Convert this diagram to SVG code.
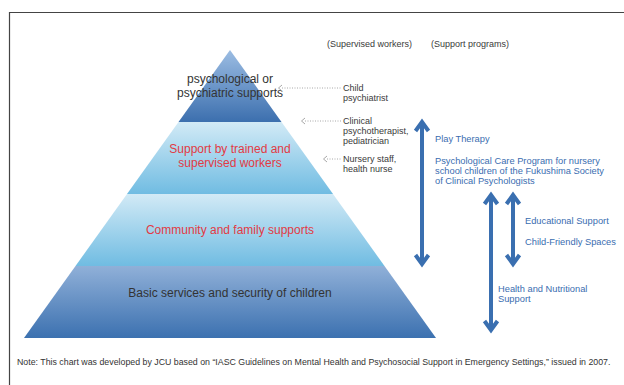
<svg xmlns="http://www.w3.org/2000/svg" width="624" height="385" viewBox="0 0 624 385">
<defs>
<linearGradient id="gTop" x1="0" y1="0" x2="0" y2="1"><stop offset="0" stop-color="#9cbde3"/><stop offset="1" stop-color="#3c6fae"/></linearGradient>
<linearGradient id="gMid" x1="0" y1="0" x2="0" y2="1"><stop offset="0" stop-color="#d2eaf6"/><stop offset="1" stop-color="#70bce2"/></linearGradient>
<linearGradient id="gBot" x1="0" y1="0" x2="0" y2="1"><stop offset="0" stop-color="#90b0d8"/><stop offset="1" stop-color="#3c71b0"/></linearGradient>
<style>
.lvl{font-family:"Liberation Sans",Arial,sans-serif;font-size:12px;text-anchor:middle}
.dark{fill:#333}
.red{fill:#e23a44}
.lab{font-family:"Liberation Sans",Arial,sans-serif;font-size:9px;fill:#3a3a3a}
.blu{font-family:"Liberation Sans",Arial,sans-serif;font-size:9.3px;fill:#3a6db0}
.dot{stroke:#a8a8a8;stroke-width:1;stroke-dasharray:1 1.5;fill:none}
.dhead{stroke:#a8a8a8;stroke-width:1;fill:none}
.arr{stroke:#3a6fb0;stroke-width:4;fill:none;stroke-linejoin:miter;stroke-miterlimit:10}
.note{font-family:"Liberation Sans",Arial,sans-serif;font-size:8.8px;fill:#333}
</style>
</defs>
<rect width="624" height="385" fill="#fff"/>
<path d="M9.5,385 V12.5 H624" fill="none" stroke="#444" stroke-width="1.2"/>
<g id="layer-top">
<polygon points="230,50 178.5,122 281.5,122" fill="url(#gTop)"/>
<text class="lvl dark" x="230" y="83">psychological or</text>
<text class="lvl dark" x="230" y="97">psychiatric supports</text>
</g>
<g id="layer-trained">
<polygon points="178.5,122 281.5,122 333,194 127,194" fill="url(#gMid)"/>
<text class="lvl red" x="230" y="153">Support by trained and</text>
<text class="lvl red" x="230" y="167">supervised workers</text>
</g>
<g id="layer-community">
<polygon points="127,194 333,194 384.5,266 75.5,266" fill="url(#gMid)"/>
<text class="lvl red" x="230" y="234">Community and family supports</text>
</g>
<g id="layer-basic">
<polygon points="75.5,266 384.5,266 436,338 24,338" fill="url(#gBot)"/>
<text class="lvl dark" x="230" y="297">Basic services and security of children</text>
</g>
<g id="headers">
<text class="lab" x="327" y="47">(Supervised workers)</text>
<text class="lab" x="431" y="47">(Support programs)</text>
</g>
<g id="worker-child">
<text class="lab" x="343" y="91">Child</text>
<text class="lab" x="343" y="101">psychiatrist</text>
</g>
<g id="worker-clinical">
<text class="lab" x="343" y="124">Clinical</text>
<text class="lab" x="343" y="134">psychotherapist,</text>
<text class="lab" x="343" y="144">pediatrician</text>
</g>
<g id="worker-nursery">
<text class="lab" x="343" y="162">Nursery staff,</text>
<text class="lab" x="343" y="172">health nurse</text>
</g>
<g id="programs">
<text class="blu" x="435" y="142">Play Therapy</text>
<text class="blu" x="435" y="164">Psychological Care Program for nursery</text>
<text class="blu" x="435" y="174">school children of the Fukushima Society</text>
<text class="blu" x="435" y="184">of Clinical Psychologists</text>
<text class="blu" x="525" y="224">Educational Support</text>
<text class="blu" x="525" y="245">Child-Friendly Spaces</text>
<text class="blu" x="498" y="292">Health and Nutritional</text>
<text class="blu" x="498" y="302">Support</text>
</g>
<g id="connectors">
<line class="dot" x1="282" y1="88" x2="341" y2="88"/>
<polyline class="dhead" points="282,85 278.5,88 282,91"/>
<line class="dot" x1="305" y1="121" x2="341" y2="121"/>
<polyline class="dhead" points="305,118 301.5,121 305,124"/>
<line class="dot" x1="327" y1="159" x2="341" y2="159"/>
<polyline class="dhead" points="327,156 323.5,159 327,162"/>
<line class="arr" x1="422" y1="124" x2="422" y2="262"/>
<polyline class="arr" points="415.5,131 422,122 428.5,131"/>
<polyline class="arr" points="415.5,255 422,264 428.5,255"/>
<line class="arr" x1="491" y1="197" x2="491" y2="328"/>
<polyline class="arr" points="484.5,204 491,195 497.5,204"/>
<polyline class="arr" points="484.5,321 491,330 497.5,321"/>
<line class="arr" x1="513" y1="197" x2="513" y2="262"/>
<polyline class="arr" points="506.5,204 513,195 519.5,204"/>
<polyline class="arr" points="506.5,255 513,264 519.5,255"/>
</g>
<text class="note" x="17" y="365">Note: This chart was developed by JCU based on “IASC Guidelines on Mental Health and Psychosocial Support in Emergency Settings,” issued in 2007.</text>
</svg>
